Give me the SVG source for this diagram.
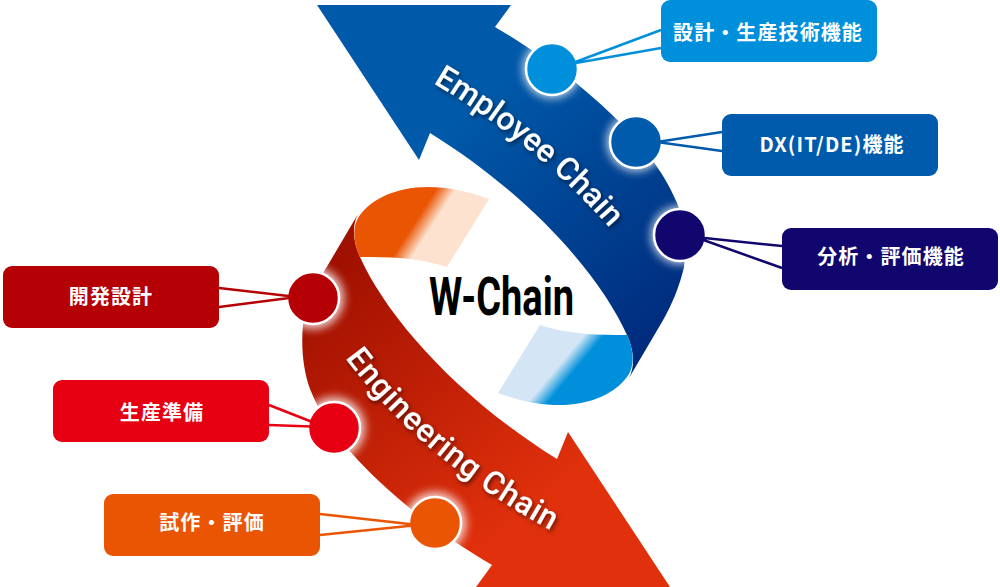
<svg xmlns="http://www.w3.org/2000/svg" width="1000" height="587" viewBox="0 0 1000 587">
<defs>
<linearGradient id="gb" gradientUnits="userSpaceOnUse" x1="480" y1="100" x2="680" y2="330"><stop offset="0" stop-color="#0059a9"/><stop offset="1" stop-color="#002a7c"/></linearGradient>
<linearGradient id="gr" gradientUnits="userSpaceOnUse" x1="340" y1="260" x2="540" y2="500"><stop offset="0" stop-color="#a01000"/><stop offset="1" stop-color="#e0300c"/></linearGradient>
<linearGradient id="gl" gradientUnits="userSpaceOnUse" x1="564" y1="359" x2="576" y2="369"><stop offset="0" stop-color="#d4e6f5"/><stop offset="1" stop-color="#0090db"/></linearGradient>
<linearGradient id="go" gradientUnits="userSpaceOnUse" x1="429" y1="231" x2="415" y2="222"><stop offset="0" stop-color="#fce2cf"/><stop offset="1" stop-color="#ea5504"/></linearGradient>
<clipPath id="cb"><path d="M317,5 L511,5 L495,27 C560,65 650,135 677,203 C684,222 686,245 684,267 C680,285 672,305 662,322 L629,378 C636,365 633,348 627,335 C600,275 530,195 430,133 L419,160 Z"/></clipPath>
<clipPath id="cr"><path d="M670,587 L476,587 L492,565 C427,527 337,457 310,389 C303,370 301,347 303,325 C307,307 315,287 325,270 L358,214 C351,227 354,244 360,257 C387,317 457,397 557,459 L568,432 Z"/></clipPath>
<filter id="gw" x="-60%" y="-60%" width="220%" height="220%"><feGaussianBlur stdDeviation="5"/></filter>
<filter id="sh" x="-10%" y="-10%" width="120%" height="120%"><feDropShadow dx="1.5" dy="2.5" stdDeviation="2" flood-color="#000" flood-opacity="0.55"/></filter>
<path id="pb" d="M433,83 Q545,150 618,238"/>
<path id="pr" d="M345,358 Q425,465 565,538"/>
</defs>
<style>
.n{stroke:#fff;stroke-width:2.5}
.g{fill:#fff;opacity:.8;filter:url(#gw)}
.t{font-family:"Noto Sans CJK JP","Noto Sans",sans-serif;font-weight:700;font-size:20px;fill:#fff;text-anchor:middle;letter-spacing:1.1px}
.c{font-family:Roboto,"Noto Sans",sans-serif;font-weight:500;font-size:32px;fill:#fff;filter:url(#sh)}
.l{fill:none;stroke-width:2.5}
</style>
<path d="M317,5 L511,5 L495,27 C560,65 650,135 677,203 C684,222 686,245 684,267 C680,285 672,305 662,322 L629,378 C636,365 633,348 627,335 C600,275 530,195 430,133 L419,160 Z" fill="url(#gb)"/>
<path d="M540,325 C570,335 600,335 627,335 C633,348 636,365 627,377 C610,400 565,418 498,393 Z" fill="url(#gl)"/>
<path d="M670,587 L476,587 L492,565 C427,527 337,457 310,389 C303,370 301,347 303,325 C307,307 315,287 325,270 L358,214 C351,227 354,244 360,257 C387,317 457,397 557,459 L568,432 Z" fill="url(#gr)"/>
<path d="M447,267 C417,257 387,257 360,257 C354,244 351,227 360,215 C377,192 422,174 489,199 Z" fill="url(#go)"/>
<g clip-path="url(#cb)"><circle class="g" cx="552" cy="69" r="29"/><circle class="g" cx="636" cy="142" r="29"/><circle class="g" cx="680" cy="235" r="29"/></g>
<g clip-path="url(#cr)"><circle class="g" cx="313" cy="298" r="31"/><circle class="g" cx="334" cy="428" r="31"/><circle class="g" cx="435" cy="523" r="31"/></g>
<text class="c"><textPath href="#pb">Employee Chain</textPath></text>
<text class="c" letter-spacing="0.7"><textPath href="#pr">Engineering Chain</textPath></text>
<text x="429" y="315" font-family="Roboto,'Liberation Sans',sans-serif" font-weight="700" font-size="53" fill="#000" textLength="145" lengthAdjust="spacingAndGlyphs">W-Chain</text>
<g id="node-design"><circle class="n" cx="552" cy="69" r="26" fill="#0090db"/><rect x="661" y="0" width="216" height="62" rx="9" fill="#0090db"/><text class="t" x="768" y="40">設計・生産技術機能</text></g>
<g id="node-dx"><circle class="n" cx="636" cy="142" r="26" fill="#005bac"/><rect x="722" y="114" width="216" height="62" rx="9" fill="#005bac"/><text class="t" x="832" y="152">DX(IT/DE)機能</text></g>
<g id="node-analysis"><circle class="n" cx="680" cy="235" r="26" fill="#10066e"/><rect x="782" y="228" width="216" height="62" rx="9" fill="#10066e"/><text class="t" x="891" y="264">分析・評価機能</text></g>
<g id="node-dev"><circle class="n" cx="313" cy="298" r="26" fill="#b50005"/><rect x="3" y="266" width="216" height="62" rx="9" fill="#b50005"/><text class="t" x="111" y="304">開発設計</text></g>
<g id="node-prep"><circle class="n" cx="334" cy="428" r="26" fill="#e60012"/><rect x="53" y="380" width="216" height="62" rx="9" fill="#e60012"/><text class="t" x="162" y="420">生産準備</text></g>
<g id="node-proto"><circle class="n" cx="435" cy="523" r="26" fill="#ea5504"/><rect x="104" y="494" width="216" height="62" rx="9" fill="#ea5504"/><text class="t" x="212" y="530">試作・評価</text></g>
<g id="connectors" class="l">
<path d="M661,30 L570,64 L661,48" stroke="#0090db"/>
<path d="M722,132 L657,142 L722,151" stroke="#005bac"/>
<path d="M782,246 L695,237 L782,268" stroke="#10066e"/>
<path d="M219,288 L297,297 L219,307" stroke="#b50005"/>
<path d="M269,405 L325,427 L269,425" stroke="#e60012"/>
<path d="M320,514 L418,525 L320,535" stroke="#ea5504"/>
</g>
</svg>
